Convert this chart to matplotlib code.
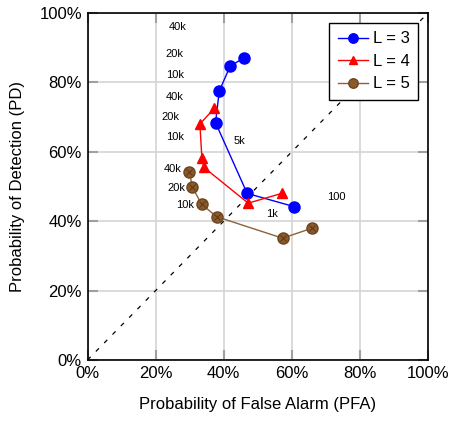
import numpy as np
import matplotlib.pyplot as plt
from matplotlib.ticker import PercentFormatter

# PFA / PD pairs for each L (in %)
pfa_l3 = [46.0, 41.9, 38.7, 37.6, 46.9, 60.7]
pd_l3 = [87.1, 84.7, 77.5, 68.4, 48.0, 44.2]

pfa_l4 = [37.2, 33.0, 33.6, 34.2, 47.2, 57.0]
pd_l4 = [72.5, 68.0, 58.1, 55.5, 45.2, 48.0]

pfa_l5 = [29.9, 30.8, 33.5, 37.9, 57.3, 66.0]
pd_l5 = [54.3, 49.8, 44.9, 41.3, 35.1, 38.0]

# threshold labels and where they sit
note_text = ["40k", "20k", "10k", "40k", "20k", "10k", "5k", "40k", "20k", "10k", "1k", "100"]
note_x = [26.5, 25.5, 25.7, 25.5, 24.4, 25.6, 44.6, 25.0, 26.0, 28.6, 54.3, 73.0]
note_y = [96.0, 88.1, 82.0, 75.9, 70.1, 64.4, 63.0, 55.0, 49.5, 44.7, 42.0, 47.1]

ticks = [0, 20, 40, 60, 80, 100]

plt.rcParams['font.family'] = ['Liberation Sans Narrow', 'Liberation Sans', 'DejaVu Sans']

fig = plt.figure(figsize=(4.49, 4.21), dpi=100)
ax = fig.add_axes([0.195, 0.145, 0.758, 0.824])

ax.plot([0, 100], [0, 100], color='black', lw=0.9, dashes=(3.5, 6), zorder=1)

ax.plot(pfa_l3, pd_l3, '-o', color='#0000ff', lw=1, ms=8, label='L = 3', zorder=3)
ax.plot(pfa_l4, pd_l4, '-^', color='#ff0000', lw=1, ms=7, label='L = 4', zorder=3)
ax.plot(pfa_l5, pd_l5, '-o', color='#8c6239', mfc='#8a5a2c', mec='#6b4420',
        lw=1, ms=8, label='L = 5', zorder=3)
ax.plot(pfa_l5, pd_l5, 'x', color='#5a3618', ms=5, mew=0.7, zorder=4)

for t, x, y in zip(note_text, note_x, note_y):
    ax.text(x, y, t, fontsize=8, ha='center', va='center',
            family=['Liberation Sans', 'DejaVu Sans'])

ax.set_xlim(0, 100)
ax.set_ylim(0, 100)
ax.set_xticks(ticks)
ax.set_yticks(ticks)
ax.xaxis.set_major_formatter(PercentFormatter(decimals=0))
ax.yaxis.set_major_formatter(PercentFormatter(decimals=0))
ax.tick_params(direction='in', length=7, width=1.5, color='#a0a0a0',
               top=True, right=True, labelsize=12, pad=4)
ax.grid(True, color='#d4d4d4', lw=1.2)
ax.set_axisbelow(True)
for s in ax.spines.values():
    s.set_linewidth(1.2)

ax.set_xlabel('Probability of False Alarm (PFA)', fontsize=12, labelpad=12,
              family=['Liberation Sans', 'DejaVu Sans'])
ax.set_ylabel('Probability of Detection (PD)', fontsize=12, labelpad=10,
              family=['Liberation Sans', 'DejaVu Sans'])

leg = ax.legend(loc='upper right', fontsize=12, frameon=True, fancybox=False,
                edgecolor='black', framealpha=1, borderaxespad=0.6,
                handlelength=1.8, handletextpad=0.3, labelspacing=0.45,
                borderpad=0.5, markerscale=0.85)
leg.get_frame().set_linewidth(1)

fig.savefig('out.png', dpi=100)
